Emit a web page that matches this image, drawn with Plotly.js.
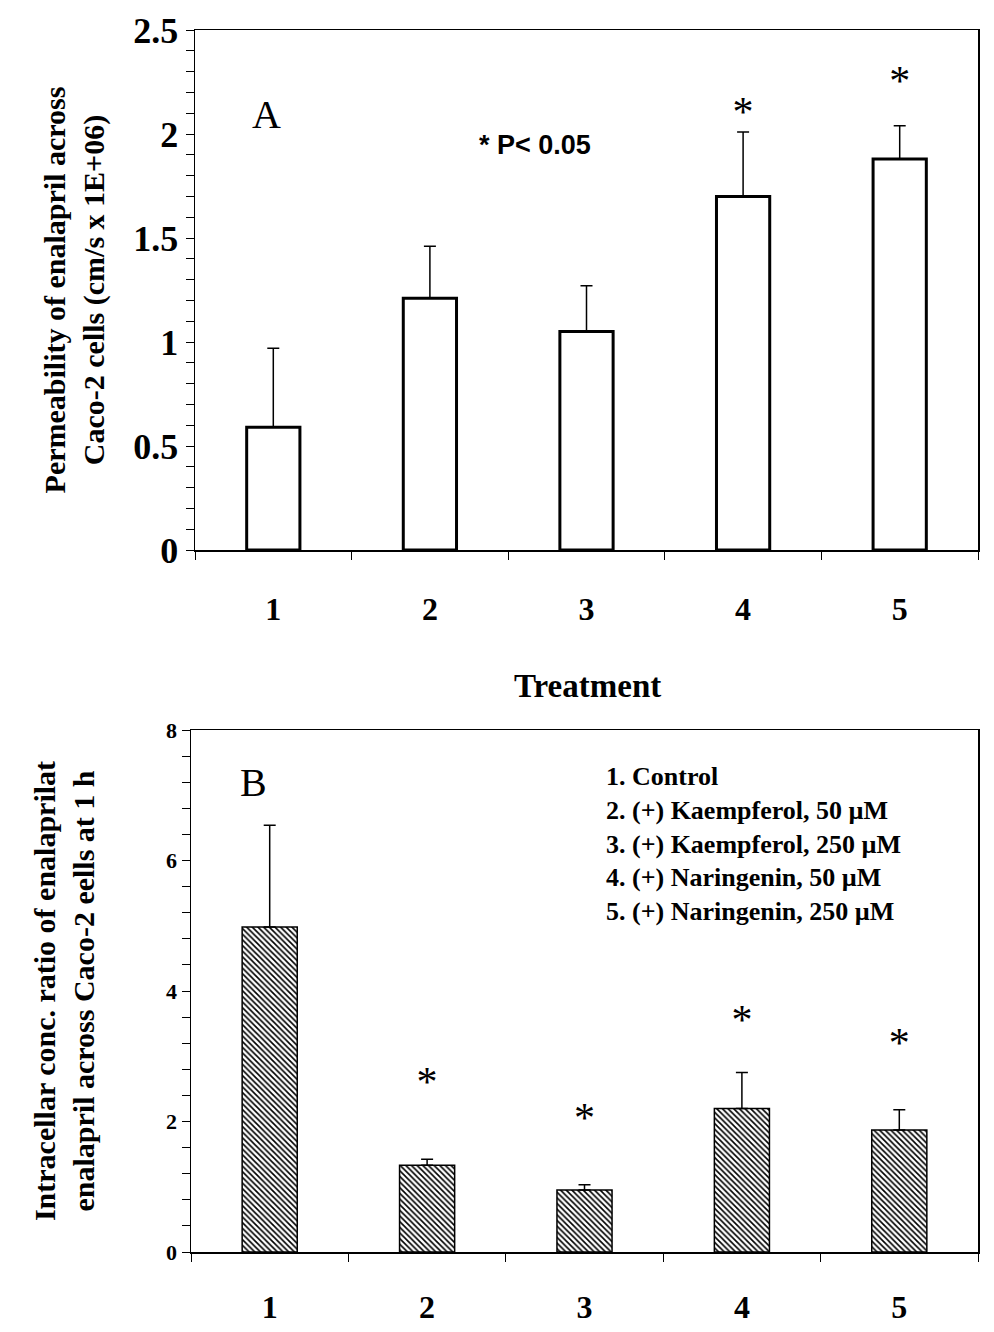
<!DOCTYPE html>
<html>
<head>
<meta charset="utf-8">
<script src="https://cdn.plot.ly/plotly-3.0.1.min.js"></script>
<style>body{margin:0;background:#fff}#chart{width:994px;height:1332px}</style>
</head>
<body>
<div id="chart"></div>
<script>
// treatments 1..5
const treatments = [1, 2, 3, 4, 5];
// panel A : permeability (cm/s x 1E+06)
const permMean = [0.59, 1.21, 1.05, 1.70, 1.88];
const permErr = [0.38, 0.25, 0.22, 0.31, 0.16];
const permStars = [4, 5];
const permStarY = [2.09, 2.24];
// panel B : intracellular conc. ratio
const ratioMean = [4.98, 1.33, 0.95, 2.20, 1.87];
const ratioErr = [1.56, 0.09, 0.08, 0.55, 0.31];
const ratioStars = [2, 3, 4, 5];
const ratioStarY = [2.55, 2.0, 3.5, 3.15];
const legendLines = ['1. Control', '2. (+) Kaempferol, 50 µM', '3. (+) Kaempferol, 250 µM',
  '4. (+) Naringenin, 50 µM', '5. (+) Naringenin, 250 µM'];

const W = 994, H = 1332;
const px = v => v / W, py = v => 1 - v / H;
const serif = 'Liberation Serif, Times New Roman, serif';

const data = [
  {
    type: 'bar', x: treatments, y: permMean, xaxis: 'x', yaxis: 'y', width: 0.34,
    marker: {color: 'white', line: {color: 'black', width: 3}},
    error_y: {type: 'data', symmetric: false, array: permErr, arrayminus: permErr.map(() => 0),
      color: 'black', thickness: 1.5, width: 6},
    hoverinfo: 'none'
  },
  {
    type: 'scatter', mode: 'text', x: permStars, y: permStarY, text: permStars.map(() => '*'),
    xaxis: 'x', yaxis: 'y', textfont: {family: serif, size: 42, color: 'black'}, hoverinfo: 'none'
  },
  {
    type: 'bar', x: treatments, y: ratioMean, xaxis: 'x2', yaxis: 'y2', width: 0.35,
    marker: {color: 'white', line: {color: 'black', width: 1.5},
      pattern: {shape: '\\', size: 4, solidity: 0.4, fgcolor: 'black', bgcolor: 'white'}},
    error_y: {type: 'data', symmetric: false, array: ratioErr, arrayminus: ratioErr.map(() => 0),
      color: 'black', thickness: 1.5, width: 6},
    hoverinfo: 'none'
  },
  {
    type: 'scatter', mode: 'text', x: ratioStars, y: ratioStarY, text: ratioStars.map(() => '*'),
    xaxis: 'x2', yaxis: 'y2', textfont: {family: serif, size: 42, color: 'black'}, hoverinfo: 'none'
  }
];

const xCommon = {
  range: [0.5, 5.5], tickvals: treatments, ticks: '', showgrid: false, zeroline: false,
  showline: true, linecolor: 'black', linewidth: 1.5, mirror: true,
  tickfont: {family: serif, size: 32, color: 'black', weight: 'bold'},
  minor: {tick0: 0.5, dtick: 1, ticks: 'outside', ticklen: 8, tickcolor: 'black', showgrid: false}
};
const yCommon = {
  showgrid: false, zeroline: false, showline: true, linecolor: 'black', linewidth: 1.5, mirror: true,
  ticks: 'outside', ticklen: 8, tickcolor: 'black'
};
const titleFont = {family: serif, size: 30, color: 'black', weight: 'bold'};

const annotations = [
  {text: 'A', x: px(250), y: py(90), xref: 'paper', yref: 'paper', showarrow: false,
    font: {family: serif, size: 40, color: 'black'}},
  {text: '* P< 0.05', x: px(535), y: py(128), xref: 'paper', yref: 'paper', showarrow: false,
    font: {family: 'Liberation Sans, Arial, sans-serif', size: 27, color: 'black', weight: 'bold'}},
  {text: 'Treatment', x: px(587), y: py(686), xref: 'paper', yref: 'paper', showarrow: false,
    font: {family: serif, size: 33, color: 'black', weight: 'bold'}},
  {text: 'B', x: px(238), y: py(782), xref: 'paper', yref: 'paper', showarrow: false,
    font: {family: serif, size: 40, color: 'black'}},
  {text: legendLines.join('<br>'), align: 'left', xanchor: 'left', yanchor: 'top',
    x: px(604), y: py(760), xref: 'paper', yref: 'paper', showarrow: false,
    font: {family: serif, size: 26, color: 'black', weight: 'bold'}}
];

const layout = {
  width: W, height: H, margin: {l: 0, r: 0, t: 0, b: 0}, showlegend: false,
  paper_bgcolor: 'white', plot_bgcolor: 'white', bargap: 0,
  xaxis: Object.assign({}, xCommon, {domain: [px(195), px(978)], anchor: 'y', ticklabelstandoff: 30}),
  yaxis: Object.assign({}, yCommon, {domain: [py(550), py(30)], anchor: 'x', range: [0, 2.5],
    dtick: 0.5,
    tickfont: {family: serif, size: 36, color: 'black', weight: 'bold'},
    title: {text: 'Permeability of enalapril across<br>Caco-2 cells (cm/s x 1E+06)', font: titleFont, standoff: 20},
    minor: {dtick: 0.1, ticks: 'outside', ticklen: 8, tickcolor: 'black', showgrid: false}}),
  xaxis2: Object.assign({}, xCommon, {domain: [px(191), px(978)], anchor: 'y2', ticklabelstandoff: 26}),
  yaxis2: Object.assign({}, yCommon, {domain: [py(1252), py(730)], anchor: 'x2', range: [0, 8],
    dtick: 2, tickfont: {family: serif, size: 22, color: 'black', weight: 'bold'},
    title: {text: 'Intracellar conc. ratio of enalaprilat<br>enalapril across Caco-2 eells at 1 h', font: titleFont, standoff: 62},
    minor: {dtick: 0.4, ticks: 'outside', ticklen: 8, tickcolor: 'black', showgrid: false}}),
  annotations: annotations
};

Plotly.newPlot('chart', data, layout, {staticPlot: true});
</script>
</body>
</html>
